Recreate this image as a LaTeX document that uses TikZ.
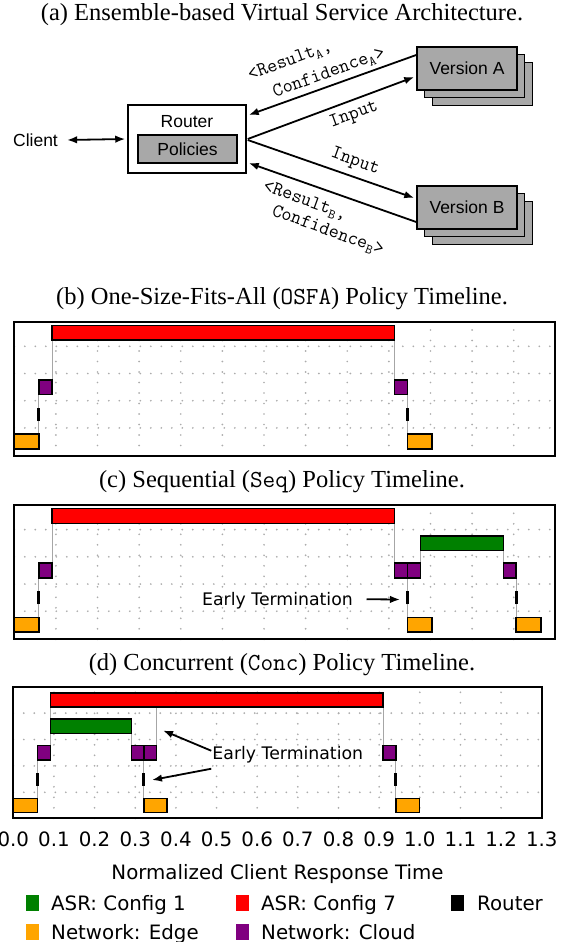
\documentclass[tikz,border=0pt]{standalone}
\usepackage{fontspec}
\setmainfont{Liberation Serif}
\newfontfamily\arialf{Liberation Sans}
\newfontfamily\djv{DejaVu Sans}
\usetikzlibrary{arrows.meta}
\definecolor{mplorange}{HTML}{FFA500}
\definecolor{mplpurple}{HTML}{800080}
\definecolor{mplgreen}{HTML}{008000}
\definecolor{mplred}{HTML}{FF0000}
\newcommand\tlbar[4]{\filldraw[fill=#1,draw=black,line width=1.5pt] (#2,#4-0.27) rectangle (#3,#4+0.27);}
\newcommand\tlrouter[2]{\draw[line width=3pt,black] (#1,#2-0.25) -- (#1,#2+0.25);}
\newcommand\tlconn[3]{\draw[conn] (#1,#2) -- (#1,#3);}
\newcommand\tlgrid[2]{%
  \foreach \gi in {1,...,12} {\draw[gridl] (\gi/10,#1) -- (\gi/10,#2);}
  \foreach \gh in {0.5,1.5,2.5,3.5} {\draw[gridl] (0,\gh) -- (1.3,\gh);}
}
\tikzset{
  plotframe/.style={draw=black,line width=2pt},
  gridl/.style={gray!65,line width=1.9pt,line cap=round,dash pattern=on 0pt off 10.5pt},
  conn/.style={gray!70,line width=1.1pt},
  ttl/.style={font=\fontsize{24.5}{29}\selectfont,inner sep=0pt},
  sansl/.style={font=\arialf\fontsize{17.5}{21}\selectfont,inner sep=0pt},
  monol/.style={font=\ttfamily\fontsize{19.5}{23}\selectfont,inner sep=0pt},
  vbox/.style={draw=black,fill=gray!68,line width=1.5pt,minimum width=100pt,minimum height=43pt,inner sep=0pt,font=\arialf\fontsize{17.5}{21}\selectfont},
  arr/.style={line width=1.8pt,-{Latex[length=10pt,width=7.5pt]}},
  legpatch/.style={minimum width=13pt,minimum height=15.7pt,inner sep=0pt},
  leg/.style={font=\djv\fontsize{19.8}{23}\selectfont,inner sep=0pt},
  ticklbl/.style={font=\djv\fontsize{19.8}{23}\selectfont,inner sep=0pt},
  ann/.style={font=\djv\fontsize{17.3}{20}\selectfont,inner sep=0pt},
}
\begin{document}
\begin{tikzpicture}[x=1pt,y=-1pt]
\useasboundingbox[fill=white] (0,0) rectangle (564,942);

% ---------- (a) ----------
\node[ttl,anchor=base] (ta) at (282,21) {(a) Ensemble-based Virtual Service Architecture.};
\node[sansl] (client) at (35.5,140) {Client};
\node[draw=black,fill=white,line width=1.5pt,minimum width=118pt,minimum height=68pt,inner sep=0pt] (router) at (187,139) {};
\node[sansl] (routerlbl) at (187,122) {Router};
\node[draw=black,fill=gray!68,line width=1.5pt,minimum width=99pt,minimum height=28pt,inner sep=0pt,font=\arialf\fontsize{17.5}{21}\selectfont] (policies) at (187.5,149) {Policies};

\node[vbox] (verA3) at (482.4,83.9) {};
\node[vbox] (verA2) at (474.7,76.2) {};
\node[vbox] (verA) at (467,68.5) {Version A};
\node[vbox] (verB3) at (482.4,222.9) {};
\node[vbox] (verB2) at (474.7,215.2) {};
\node[vbox] (verB) at (467,207.5) {Version B};

\draw[line width=1.8pt,{Latex[length=10pt,width=7.5pt]}-{Latex[length=10pt,width=7.5pt]}] ([xshift=9pt]client.east) -- ([xshift=-2pt]router.west);
\draw[arr] ([yshift=13.5pt]verA.west) -- ([xshift=2pt,yshift=24pt]router.east);
\draw[arr] ([xshift=1pt]router.east) -- ([xshift=-2pt,yshift=-8.5pt]verA.west);
\draw[arr] ([xshift=1pt,yshift=-1pt]router.east) -- ([xshift=-2pt,yshift=9.5pt]verB.west);
\draw[arr] ([yshift=-14.5pt]verB.west) -- ([xshift=2pt,yshift=-24pt]router.east);

\node[monol,rotate=20] (lra1) at (290,61) {<Result\textsubscript{A},};
\node[monol,rotate=20] (lra2) at (329,73) {Confidence\textsubscript{A}>};
\node[monol,rotate=20] (lina) at (354,115) {Input};
\node[monol,rotate=-20] (linb) at (355,162) {Input};
\node[monol,rotate=-20] (lrb1) at (305,201) {<Result\textsubscript{B},};
\node[monol,rotate=-20] (lrb2) at (328,231) {Confidence\textsubscript{B}>};

% ---------- (b) ----------
\node[ttl,anchor=base] (tb) at (282,304) {(b) One-Size-Fits-All (\texttt{OSFA}) Policy Timeline.};
\begin{scope}[shift={(14.3,441.5)},x=416.2pt,y=27.2pt]
  \tlgrid{-0.533}{4.393}
  \tlconn{0.059}{0}{2}
  \tlconn{0.091}{2}{4}
  \tlconn{0.913}{4}{2}
  \tlconn{0.945}{2}{0}
  \tlbar{mplorange}{0}{0.059}{0}
  \tlrouter{0.059}{1}
  \tlbar{mplpurple}{0.059}{0.091}{2}
  \tlbar{mplred}{0.091}{0.913}{4}
  \tlbar{mplpurple}{0.913}{0.945}{2}
  \tlrouter{0.945}{1}
  \tlbar{mplorange}{0.945}{1.003}{0}
  \draw[plotframe] (0,-0.533) rectangle (1.3,4.393);
\end{scope}

% ---------- (c) ----------
\node[ttl,anchor=base] (tc) at (282,487) {(c) Sequential (\texttt{Seq}) Policy Timeline.};
\begin{scope}[shift={(14.3,624.8)},x=416.2pt,y=27.2pt]
  \tlgrid{-0.533}{4.393}
  \tlconn{0.059}{0}{2}
  \tlconn{0.091}{2}{4}
  \tlconn{0.913}{4}{2}
  \tlconn{0.945}{2}{0}
  \tlconn{0.976}{2}{3}
  \tlconn{1.175}{3}{2}
  \tlconn{1.206}{2}{0}
  \tlbar{mplorange}{0}{0.059}{0}
  \tlrouter{0.059}{1}
  \tlbar{mplpurple}{0.059}{0.091}{2}
  \tlbar{mplred}{0.091}{0.913}{4}
  \tlbar{mplpurple}{0.913}{0.945}{2}
  \tlbar{mplpurple}{0.945}{0.976}{2}
  \tlrouter{0.945}{1}
  \tlbar{mplorange}{0.945}{1.003}{0}
  \tlbar{mplgreen}{0.976}{1.175}{3}
  \tlbar{mplpurple}{1.175}{1.206}{2}
  \tlrouter{1.206}{1}
  \tlbar{mplorange}{1.206}{1.266}{0}
  \draw[plotframe] (0,-0.533) rectangle (1.3,4.393);
\end{scope}
\node[ann,anchor=base east] (etc) at (353,605) {Early Termination};
\coordinate (etcTip) at (400,599.5);
\draw[arr] ([xshift=13.5pt,yshift=1pt]etc.east) -- (etcTip);

% ---------- (d) ----------
\node[ttl,anchor=base] (td) at (282,670) {(d) Concurrent (\texttt{Conc}) Policy Timeline.};
\begin{scope}[shift={(13.3,805.5)},x=406.5pt,y=26.4pt]
  \tlgrid{-0.485}{4.5}
  \tlconn{0.06}{0}{2}
  \tlconn{0.091}{2}{4}
  \tlconn{0.291}{3}{2}
  \tlconn{0.352}{2}{4}
  \tlconn{0.321}{2}{0}
  \tlconn{0.91}{4}{2}
  \tlconn{0.941}{2}{0}
  \tlbar{mplorange}{0}{0.06}{0}
  \tlrouter{0.06}{1}
  \tlbar{mplpurple}{0.06}{0.091}{2}
  \tlbar{mplred}{0.091}{0.91}{4}
  \tlbar{mplgreen}{0.091}{0.291}{3}
  \tlbar{mplpurple}{0.291}{0.321}{2}
  \tlbar{mplpurple}{0.321}{0.352}{2}
  \tlrouter{0.321}{1}
  \tlbar{mplorange}{0.321}{0.378}{0}
  \tlbar{mplpurple}{0.91}{0.941}{2}
  \tlrouter{0.941}{1}
  \tlbar{mplorange}{0.941}{0.999}{0}
  \draw[plotframe] (0,-0.485) rectangle (1.3,4.5);
\end{scope}
\node[ann,anchor=base east] (etd) at (363.3,759) {Early Termination};
\coordinate (etdTipA) at (163,730.5);
\coordinate (etdTipB) at (152,780);
\draw[arr] ([xshift=-1pt,yshift=3.5pt]etd.west) -- (etdTipA);
\draw[arr] ([xshift=-1pt,yshift=-14.5pt]etd.west) -- (etdTipB);

% ---------- axis ----------
\foreach \lab [count=\i from 0] in {0.0,0.1,0.2,0.3,0.4,0.5,0.6,0.7,0.8,0.9,1.0,1.1,1.2,1.3}
  {\node[ticklbl,anchor=base] (tick\i) at (13.3+40.65*\i,846.7) {\lab};}
\node[ticklbl,anchor=base] (xlabel) at (277.5,879.3) {Normalized Client Response Time};

% ---------- legend ----------
\node[legpatch,fill=mplgreen] (lg1) at (32.5,903.3) {};
\node[leg,anchor=base west] (lg1t) at (51,910.2) {ASR: Config 1};
\node[legpatch,fill=mplred] (lg2) at (242.5,903.3) {};
\node[leg,anchor=base west] (lg2t) at (261,910.2) {ASR: Config 7};
\node[legpatch,fill=black] (lg3) at (457.5,903.3) {};
\node[leg,anchor=base west] (lg3t) at (477,910.2) {Router};
\node[legpatch,fill=mplorange] (lg4) at (32.5,932.3) {};
\node[leg,anchor=base west] (lg4t) at (51,939.7) {Network: Edge};
\node[legpatch,fill=mplpurple] (lg5) at (242.5,932.3) {};
\node[leg,anchor=base west] (lg5t) at (261,939.7) {Network: Cloud};
\end{tikzpicture}
\end{document}
